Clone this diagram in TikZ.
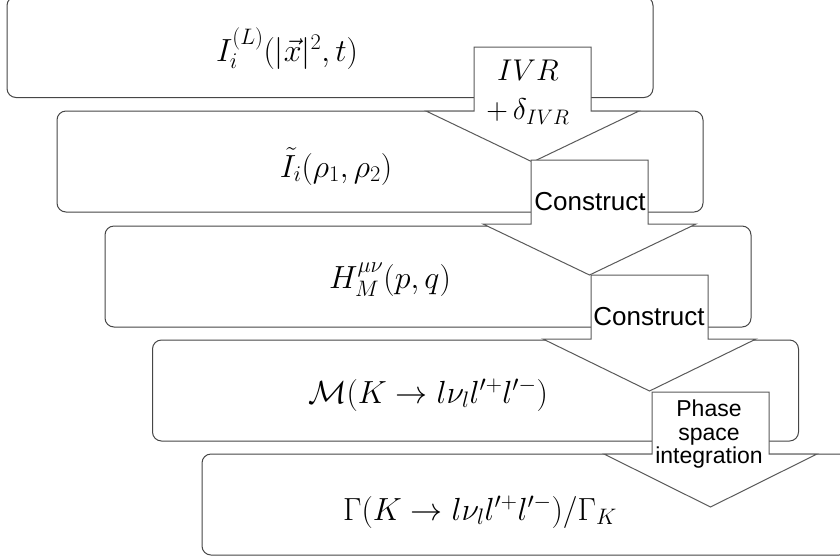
\RequirePackage{fix-cm}
\documentclass[tikz,border=0pt]{standalone}
\usepackage{amsmath}
\usepackage{fontspec}
\newfontfamily\arialfont{Liberation Sans}
\usetikzlibrary{shapes}
\definecolor{box_gray}{RGB}{70,70,70}
\definecolor{arr_gray}{RGB}{90,90,90}
\tikzstyle{bx}=[rectangle,rounded corners=9pt,fill=white,draw=box_gray,
  line width=1pt,inner sep=0pt,minimum width=646pt,minimum height=101pt]
\tikzstyle{blk}=[fill=white,draw=arr_gray,line width=1pt,line join=miter]
\tikzstyle{mth}=[anchor=base,inner sep=0pt,font=\fontsize{32}{38}\selectfont]
\tikzstyle{lbl}=[inner sep=0pt,font=\arialfont\fontsize{26}{26}\selectfont]

\begin{document}
\begin{tikzpicture}[x=1pt,y=-1pt]
    \useasboundingbox (0,0) rectangle (840,558);
    \node [style=bx] (1b) at (330,47) {};
    \node [style=bx] (2b) at (380,161.5) {};
    \node [style=bx] (3b) at (428,276.5) {};
    \node [style=bx] (4b) at (475.5,390.5) {};
    \node [style=bx] (5b) at (525,504.5) {};
    \node [style=mth] (1t) at (287,61) {$I_i^{(L)}(|\vec{x}|^2,t)$};
    \node [style=mth] (2t) at (336,177) {$\tilde{I}_i(\rho_1,\rho_2)$};
    \node [style=mth] (3t) at (390,288) {$H_M^{\mu\nu}(p,q)$};
    \node [style=mth] (4t) at (428,403) {$\mathcal{M}(K\to l\nu_l l'^+l'^-)$};
    \node [style=mth] (5t) at (480,520) {$\Gamma(K\to l\nu_l l'^+l'^-)/\Gamma_K$};
    \coordinate (1a) at (474,47);
    \coordinate (2a) at (531,160);
    \coordinate (3a) at (591,275);
    \coordinate (4a) at (652,392);
    \draw [style=blk] (1a) -- ++(117,0) -- ++(0,64) -- ++(48,0) -- ++(-106.5,51)
      -- ++(-106.5,-51) -- ++(48,0) -- cycle;
    \draw [style=blk] (2a) -- ++(117,0) -- ++(0,64) -- ++(48,0) -- ++(-106.5,51)
      -- ++(-106.5,-51) -- ++(48,0) -- cycle;
    \draw [style=blk] (3a) -- ++(117,0) -- ++(0,64) -- ++(48,0) -- ++(-106.5,52)
      -- ++(-106.5,-52) -- ++(48,0) -- cycle;
    \draw [style=blk] (4a) -- ++(117,0) -- ++(0,62) -- ++(48,0) -- ++(-106.5,53)
      -- ++(-106.5,-53) -- ++(48,0) -- cycle;
    \node [style=mth,anchor=center,align=center,font=\fontsize{30}{39}\selectfont]
      (1l) at (528,92) {$IVR$\\$+\,\delta_{IVR}$};
    \node [style=lbl,anchor=base] (2l) at (590,210) {Construct};
    \node [style=lbl,anchor=base] (3l) at (649,325) {Construct};
    \node [style=lbl,align=center,font=\arialfont\fontsize{23}{23.5}\selectfont]
      (4l) at (709,434.5) {Phase\\space\\integration};
  \end{tikzpicture}
\end{document}
